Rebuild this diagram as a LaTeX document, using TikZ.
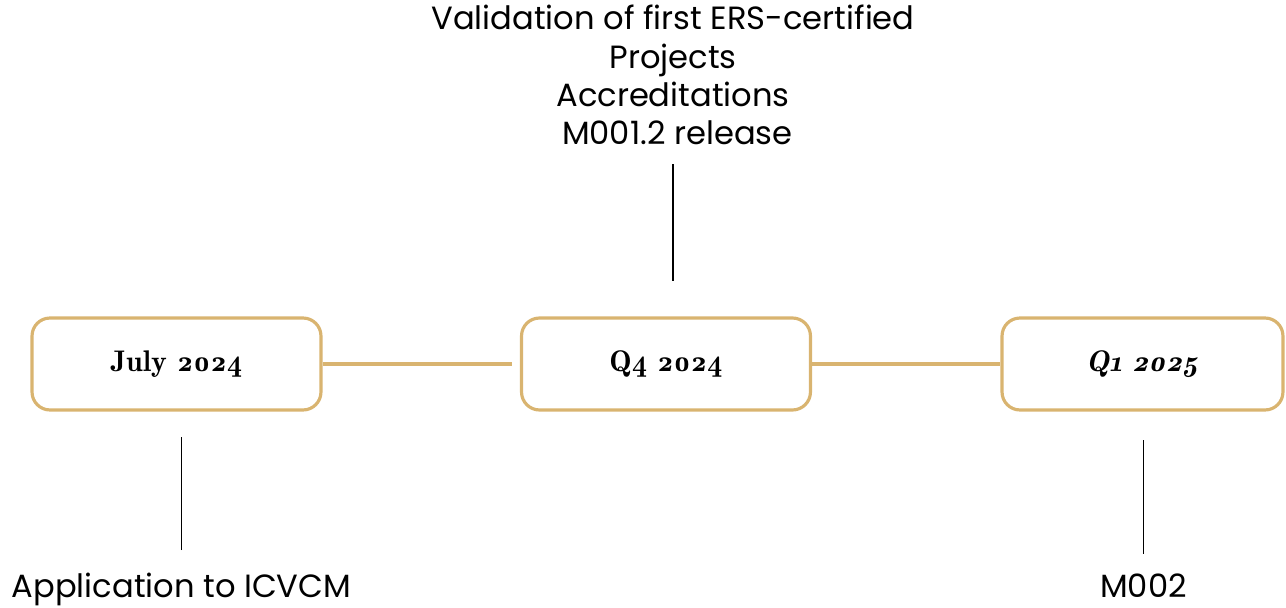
\documentclass[tikz,border=0pt]{standalone}
\usepackage{fontspec}
\setmainfont{Poppins}
\newfontfamily\datefont[Numbers=OldStyle,
  BoldFont={Latin Modern Roman Demi},
  BoldItalicFont={Latin Modern Roman Demi},
  BoldItalicFeatures={FakeSlant=0.2}]{Latin Modern Roman}
\usepackage{tikz}
\usetikzlibrary{positioning}

\begin{document}
\begin{tikzpicture}[x=0.02cm,y=-0.02cm]
\definecolor{gold}{HTML}{D9B470}
\tikzset{
  datebox/.style={draw=gold,line width=1.8pt,rounded corners=0.36cm,fill=white,
    minimum width=5.78cm,minimum height=1.84cm,inner sep=0pt,
    font=\datefont\bfseries\fontsize{17}{20}\selectfont},
  milestone/.style={align=center,inner sep=0pt,font=\fontsize{18.3}{21.8}\selectfont},
  link/.style={draw=gold,line width=1.8pt},
  stem/.style={draw=black,line width=0.9pt}
}
\useasboundingbox (0,0) rectangle (1286,608);

% timeline boxes
\node[datebox] (july) at (176.5,364) {July 2024};
\node[datebox] (q4) at (666,364) {Q4 2024};
\node[datebox,minimum width=5.62cm] (q1) at (1142.5,364) {\itshape Q1 2025};

\draw[link,shorten >=0.16cm] (july) -- (q4);
\draw[link] (q4) -- (q1);

% milestones
\node[milestone,anchor=north] (valid) at (673,5)
  {Validation of first ERS-certified\\Projects\\Accreditations\\\ M001.2 release};
\node[milestone,anchor=base] (icvcm) at (181.5,597) {Application to ICVCM};
\node[milestone,anchor=base] (m2) at (1143.5,597) {M002};

\draw[stem,shorten <=0.38cm,shorten >=0.7cm] (valid.south) -- (valid.south |- q4.north);
\draw[stem,shorten <=0.44cm,shorten >=0.5cm] (icvcm.north) -- (icvcm.north |- july.south);
\draw[stem,shorten <=0.38cm,shorten >=0.56cm] (m2.north) -- (m2.north |- q1.south);
\end{tikzpicture}
\end{document}
